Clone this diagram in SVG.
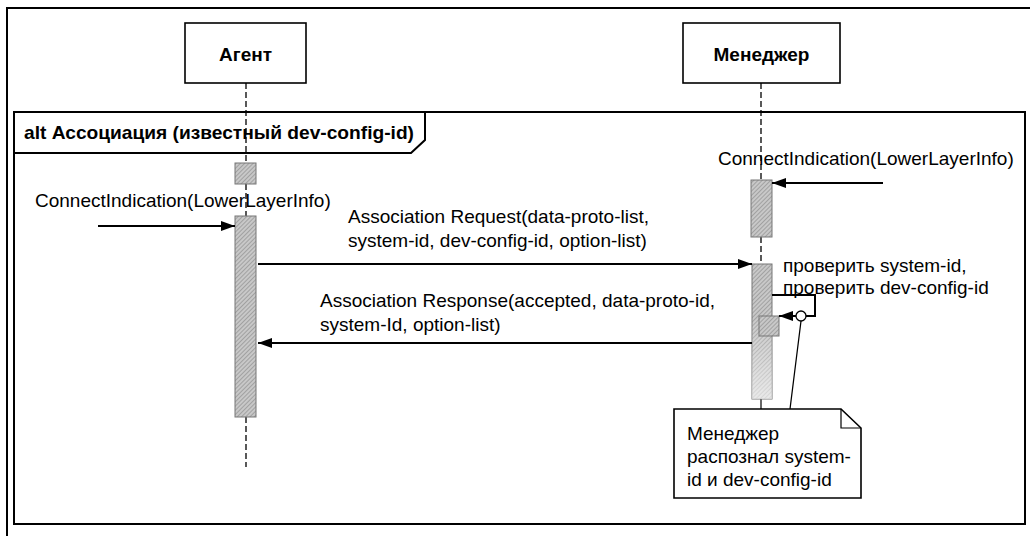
<svg xmlns="http://www.w3.org/2000/svg" width="1030" height="536" viewBox="0 0 1030 536">
<style>
text{font-family:"Liberation Sans",Arial,sans-serif;font-size:19px;fill:#000}
.b{font-weight:bold}
.frame{fill:none;stroke:#000;stroke-width:2}
.box{fill:#fff;stroke:#000;stroke-width:1.6}
.life{stroke:#000;stroke-width:1.3;stroke-dasharray:6,3;fill:none}
.msg{stroke:#000;stroke-width:2;fill:none}
.thin{stroke:#000;stroke-width:1.2;fill:none}
.act{fill:url(#hatch);stroke:#777;stroke-width:1}
</style>
<defs>
<pattern id="hatch" width="3" height="3" patternUnits="userSpaceOnUse" patternTransform="rotate(45)">
<rect width="3" height="3" fill="#c8c8c8"/>
<line x1="0" y1="0" x2="0" y2="3" stroke="#7a7a7a" stroke-width="1"/>
</pattern>
<linearGradient id="fade" x1="0" y1="0" x2="0" y2="1">
<stop offset="0" stop-color="#fff" stop-opacity="0"/>
<stop offset="1" stop-color="#fff" stop-opacity="0.6"/>
</linearGradient>
<marker id="ah" viewBox="0 0 14 10" refX="14" refY="5" markerWidth="14" markerHeight="10" markerUnits="userSpaceOnUse" orient="auto">
<path d="M0,0 L14,5 L0,10 Z" fill="#000"/>
</marker>
</defs>
<rect width="1030" height="536" fill="#fff"/>
<path class="frame" d="M7,536 V8 H1030"/>
<g id="alt-frame">
<rect class="frame" x="14" y="112" width="1011" height="412"/>
<path class="frame" d="M14,153 H411 L425,140 V112"/>
<text class="b" x="24" y="139" textLength="390" lengthAdjust="spacingAndGlyphs">alt Ассоциация (известный dev-config-id)</text>
</g>
<g id="agent">
<rect class="box" x="185" y="23" width="121" height="60"/>
<text class="b" x="245.5" y="61" text-anchor="middle">Агент</text>
<path class="life" d="M246,83 V163 M246,184 V216 M246,417 V467"/>
<rect class="act" x="235" y="163" width="21" height="21"/>
<rect class="act" x="235" y="216" width="21" height="201"/>
</g>
<g id="manager">
<rect class="box" x="683" y="23" width="157" height="60"/>
<text class="b" x="761.5" y="61" text-anchor="middle">Менеджер</text>
<path class="life" d="M761,83 V180 M761,237 V264"/>
<line class="thin" x1="761" y1="399" x2="761" y2="409"/>
<rect class="act" x="751" y="180" width="21" height="57"/>
<rect class="act" x="752" y="264" width="20" height="135"/>
<rect x="752" y="315" width="20" height="84" fill="url(#fade)"/>
<rect class="act" x="759" y="316" width="20" height="20"/>
</g>
<g id="note">
<path class="box" d="M674,409 H841 L861,428 V498 H674 Z"/>
<path class="thin" d="M841,409 V428 H861"/>
<text x="687" y="440">Менеджер</text>
<text x="687" y="463">распознал system-</text>
<text x="687" y="486">id и dev-config-id</text>
</g>
<g id="connectors">
<line class="msg" x1="98" y1="226" x2="235" y2="226" marker-end="url(#ah)"/>
<line class="msg" x1="883" y1="183" x2="772" y2="183" marker-end="url(#ah)"/>
<line class="msg" x1="258" y1="264" x2="752" y2="264" marker-end="url(#ah)"/>
<line class="msg" x1="752" y1="343" x2="258" y2="343" marker-end="url(#ah)"/>
<path class="msg" d="M772,295 H815 V316 H779" marker-end="url(#ah)"/>
<circle cx="801" cy="316" r="5" fill="#fff" stroke="#000" stroke-width="1.3"/>
<line class="thin" x1="801" y1="321" x2="790" y2="409"/>
</g>
<g id="labels">
<text x="35" y="207">ConnectIndication(LowerLayerInfo)</text>
<text x="718" y="165">ConnectIndication(LowerLayerInfo)</text>
<text x="348" y="223">Association Request(data-proto-list,</text>
<text x="348" y="247">system-id, dev-config-id, option-list)</text>
<text x="320" y="307">Association Response(accepted, data-proto-id,</text>
<text x="320" y="331">system-Id, option-list)</text>
<text x="783" y="272">проверить system-id,</text>
<text x="783" y="294">проверить dev-config-id</text>
</g>
</svg>
